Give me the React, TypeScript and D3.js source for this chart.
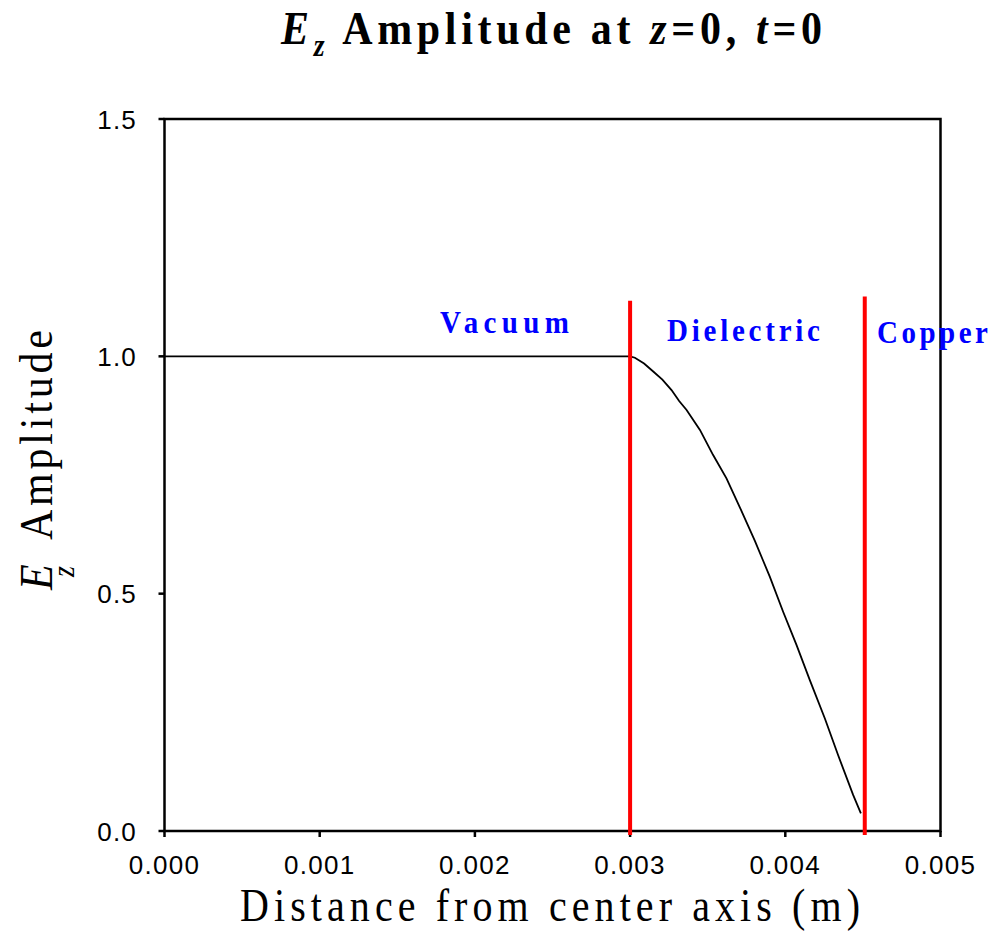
import React from "react";
import * as d3 from "d3";

const xs = [0, 0.0005, 0.001, 0.0015, 0.002, 0.0025, 0.0029, 0.003, 0.003031, 0.00309, 0.003149, 0.003208, 0.003267, 0.003316, 0.003364, 0.00345, 0.003535, 0.003621, 0.003707, 0.003804, 0.0039, 0.003986, 0.004072, 0.004158, 0.004255, 0.00434, 0.004437, 0.004487];
const ys = [1, 1, 1, 1, 1, 1, 1, 1, 0.997, 0.985, 0.968, 0.951, 0.929, 0.906, 0.887, 0.845, 0.792, 0.743, 0.682, 0.611, 0.536, 0.462, 0.392, 0.318, 0.237, 0.16, 0.076, 0.037];
const xTicks = [0, 0.001, 0.002, 0.003, 0.004, 0.005];
const yTicks = [0, 0.5, 1.0, 1.5];
const boundaryX = [0.003, 0.004512];
const boundaryTop = [1.117, 1.126];
const regionNames = ["Vacuum", "Dielectric", "Copper"];

export default function App() {
  const W = 995, H = 945;
  const m = { left: 164.5, top: 119, right: 940.5, bottom: 831 };
  const x = d3.scaleLinear().domain([0, 0.005]).range([m.left, m.right]);
  const y = d3.scaleLinear().domain([0, 1.5]).range([m.bottom, m.top]);
  const pts = xs.map((v, i) => [v, ys[i]] as [number, number]);
  const line = d3.line<[number, number]>().x(d => x(d[0])).y(d => y(d[1]));
  const sans = "'Liberation Sans', Arial, sans-serif";
  const serif = "'Liberation Serif', 'Times New Roman', serif";
  const regionPos = [
    { x: 440, y: 333, len: 129 },
    { x: 667, y: 341, len: 153 },
    { x: 877, y: 343, len: 111 },
  ];
  const vstretch = (base: number, s: number) => `translate(0,${base}) scale(1,${s}) translate(0,${-base})`;
  return (
    <svg width={W} height={H} style={{ position: "absolute", left: 0, top: 0, background: "#fff" }}>
      <rect x={0} y={0} width={W} height={H} fill="#fff" />
      {/* title */}
      <text x={281} y={44} transform={vstretch(44, 1.12)} fontFamily={serif} fontWeight="bold" fontSize={42} fill="#000" textLength={541}>
        <tspan fontStyle="italic">E</tspan>
        <tspan fontStyle="italic" fontSize={28} dy={11}>z</tspan>
        <tspan dy={-11}> Amplitude at </tspan>
        <tspan fontStyle="italic">z</tspan>
        <tspan>=0, </tspan>
        <tspan fontStyle="italic">t</tspan>
        <tspan>=0</tspan>
      </text>
      {/* plot frame */}
      <rect x={m.left} y={m.top} width={m.right - m.left} height={m.bottom - m.top} fill="none" stroke="#000" strokeWidth={2.5} />
      {/* y ticks */}
      {yTicks.map(t => (
        <g key={"y" + t}>
          <line x1={m.left - 6} x2={m.left} y1={y(t)} y2={y(t)} stroke="#000" strokeWidth={2.5} />
          <text x={137} y={y(t) + 9.5} textAnchor="end" fontFamily={sans} fontSize={26} letterSpacing={1.2} fill="#000">{t.toFixed(1)}</text>
        </g>
      ))}
      {/* x ticks */}
      {xTicks.map(t => (
        <g key={"x" + t}>
          <line x1={x(t)} x2={x(t)} y1={m.bottom} y2={m.bottom + 6} stroke="#000" strokeWidth={2.5} />
          <text x={x(t)} y={874} textAnchor="middle" fontFamily={sans} fontSize={26} letterSpacing={1.3} fill="#000">{t.toFixed(3)}</text>
        </g>
      ))}
      {/* curve */}
      <path d={line(pts) || ""} fill="none" stroke="#000" strokeWidth={1.8} />
      {/* boundaries */}
      {boundaryX.map((b, i) => (
        <line key={"b" + i} x1={x(b)} x2={x(b)} y1={y(boundaryTop[i])} y2={y(0) + 4} stroke="#ff0000" strokeWidth={4} />
      ))}
      {/* region labels */}
      {regionNames.map((n, i) => (
        <text key={n} x={regionPos[i].x} y={regionPos[i].y} transform={vstretch(regionPos[i].y, 1.1)} fontFamily={serif} fontWeight="bold" fontSize={29} fill="#0000ff" textLength={regionPos[i].len}>{n}</text>
      ))}
      {/* x axis label */}
      <text x={240} y={921} transform={vstretch(921, 1.18)} fontFamily={serif} fontSize={40} fill="#000" textLength={620}>Distance from center axis (m)</text>
      {/* y axis label */}
      <g transform="translate(52,590) rotate(-90)">
        <g transform="scale(1,1.1)">
          <text x={0} y={0} fontFamily={serif} fontStyle="italic" fontSize={42} fill="#000">E</text>
          <text x={13} y={20} fontFamily={serif} fontStyle="italic" fontSize={28} fill="#000">z</text>
          <text x={50} y={0} fontFamily={serif} fontSize={42} fill="#000" textLength={210}>Amplitude</text>
        </g>
      </g>
    </svg>
  );
}
